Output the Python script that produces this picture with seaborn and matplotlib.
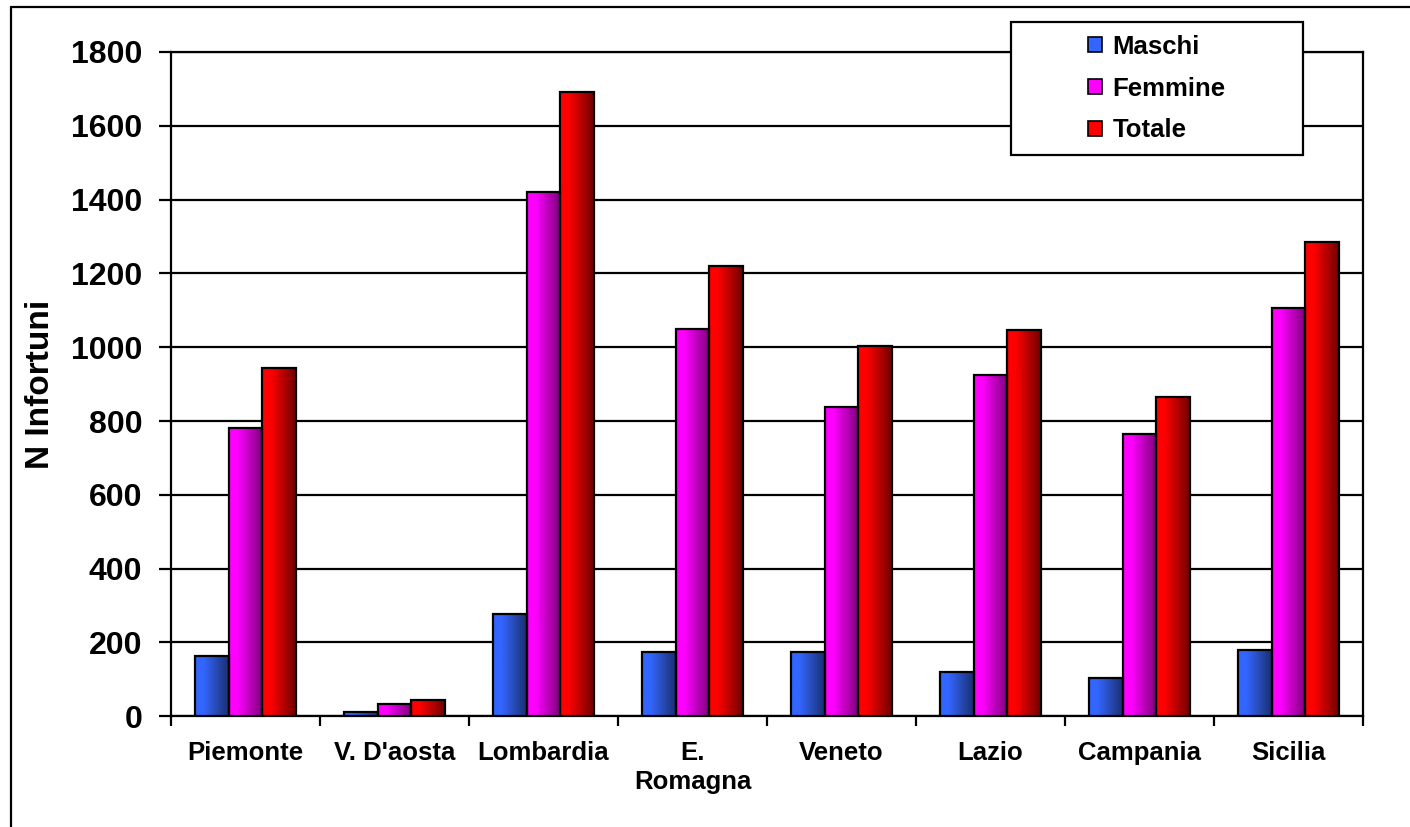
import numpy as np
import pandas as pd
import matplotlib
matplotlib.use("Agg")
import matplotlib.pyplot as plt
import seaborn as sns
from matplotlib.colors import LinearSegmentedColormap
from matplotlib.patches import Patch, Rectangle
from matplotlib.lines import Line2D

regions = ["Piemonte", "V. D'aosta", "Lombardia", "E.\nRomagna", "Veneto",
           "Lazio", "Campania", "Sicilia"]
series = ["Maschi", "Femmine", "Totale"]
maschi = [163, 12, 276, 175, 175, 121, 104, 179]
femmine = [780, 33, 1420, 1049, 837, 924, 765, 1107]
totale = [943, 44, 1691, 1220, 1003, 1047, 864, 1285]
yticks = [0, 200, 400, 600, 800, 1000, 1200, 1400, 1600, 1800]

bright = {"Maschi": "#3366FF", "Femmine": "#FF00FF", "Totale": "#FF0000"}
dark = {"Maschi": "#1A2F6E", "Femmine": "#7A0078", "Totale": "#700000"}

df = pd.DataFrame({
    "Regione": regions * 3,
    "Serie": [s for s in series for _ in regions],
    "Valore": maschi + femmine + totale,
})

sns.set_theme(style="white")
plt.rcParams["font.family"] = ["Liberation Sans", "DejaVu Sans"]
plt.rcParams["font.weight"] = "bold"
plt.rcParams["text.color"] = "black"
plt.rcParams["axes.labelcolor"] = "black"
plt.rcParams["xtick.color"] = "black"
plt.rcParams["ytick.color"] = "black"

fig = plt.figure(figsize=(14.10, 8.27), dpi=100)
ax = fig.add_axes([171 / 1410, 1 - 716.3 / 827, (1363 - 171) / 1410, (716.3 - 52) / 827])

sns.barplot(data=df, x="Regione", y="Valore", hue="Serie", order=regions,
            hue_order=series, palette=bright, width=0.68, gap=0,
            edgecolor="black", linewidth=1.6, ax=ax, legend=False, zorder=3)

# gradient fill for each bar
grad = np.linspace(0, 1, 256).reshape(1, -1)
n = len(regions)
for i, patch in enumerate(ax.patches):
    s = series[i // n]
    cmap = LinearSegmentedColormap.from_list(
        s, [(0, bright[s]), (0.25, bright[s]), (1, dark[s])])
    x0, y0 = patch.get_x(), patch.get_y()
    w, h = patch.get_width(), patch.get_height()
    im = ax.imshow(grad, extent=[x0, x0 + w, y0, y0 + h], aspect="auto",
                   cmap=cmap, zorder=2.9, interpolation="bilinear")
    im.set_clip_path(patch)
    patch.set_facecolor("none")

ax.set_xlim(-0.5, n - 0.5)
ax.set_ylim(0, 1800)
ax.set_yticks(yticks)
ax.set_yticklabels([str(v) for v in yticks], fontsize=23, fontweight="bold", color="black")
ax.set_xticks(range(n))
ax.set_xticklabels(regions, fontsize=18.5, fontweight="bold", linespacing=1.25, color="black")
ax.set_xticks(np.arange(-0.5, n, 1), minor=True)
ax.tick_params(axis="x", which="major", length=0, pad=18)
ax.tick_params(axis="x", which="minor", length=7, width=1.6, color="black",
               direction="out", bottom=True)
ax.tick_params(axis="y", which="major", length=8.6, width=1.6, color="black",
               direction="out", pad=12, left=True)
ax.set_xlabel("")
ax.set_ylabel("N Infortuni", fontsize=24, fontweight="bold", labelpad=11, color="black")
ax.yaxis.grid(True, color="black", linewidth=1.6, zorder=0.5)
ax.xaxis.grid(False)
ax.set_axisbelow(True)
for side in ["left", "bottom", "right", "top"]:
    ax.spines[side].set_visible(True)
    ax.spines[side].set_color("black")
    ax.spines[side].set_linewidth(1.6)

# outer chart border (cut at right and bottom)
fig.add_artist(Line2D([11 / 1410, 11 / 1410], [0, 1 - 7 / 827], color="black",
                      linewidth=1.6, transform=fig.transFigure))
fig.add_artist(Line2D([11 / 1410, 1], [1 - 7 / 827, 1 - 7 / 827], color="black",
                      linewidth=1.6, transform=fig.transFigure))

# legend box
lx0, lx1, ly0, ly1 = 1011, 1303, 22, 155
fig.add_artist(Rectangle((lx0 / 1410, 1 - ly1 / 827), (lx1 - lx0) / 1410,
                         (ly1 - ly0) / 827, transform=fig.transFigure,
                         facecolor="white", edgecolor="black", linewidth=1.6,
                         zorder=5))
handles = [Patch(facecolor=bright[s], edgecolor="black", linewidth=1.2) for s in series]
leg = fig.legend(handles, series, loc="center",
                 bbox_to_anchor=((lx0 + lx1) / 2 / 1410, 1 - (ly0 + ly1) / 2 / 827),
                 frameon=False, prop={"size": 18.5, "weight": "bold"},
                 handlelength=0.55, handleheight=0.55, handletextpad=0.4,
                 labelspacing=0.7, labelcolor="black")
leg.set_zorder(6)

fig.savefig("out.png", dpi=100)
